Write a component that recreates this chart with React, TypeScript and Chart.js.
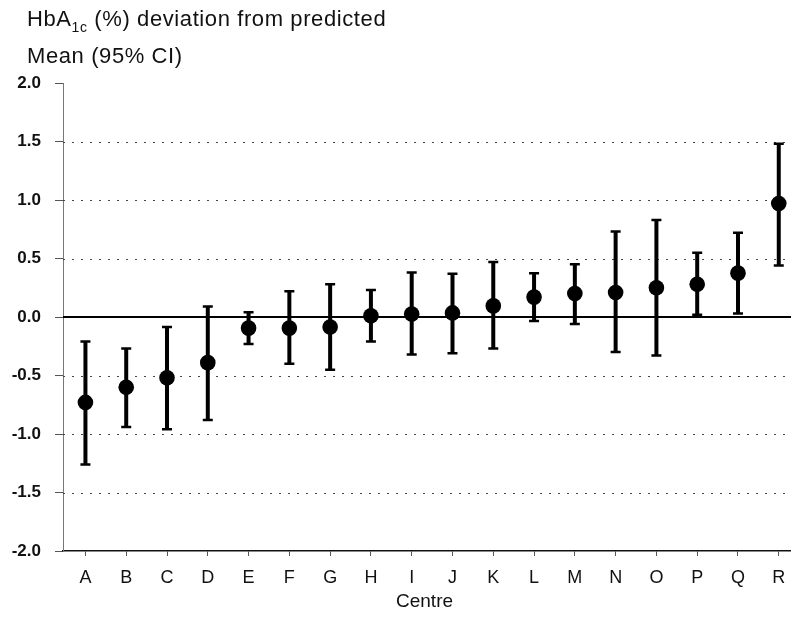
import React, { useEffect, useRef } from 'react';
import { Chart, registerables } from 'chart.js';

Chart.register(...registerables);

const centres = ['A', 'B', 'C', 'D', 'E', 'F', 'G', 'H', 'I', 'J', 'K', 'L', 'M', 'N', 'O', 'P', 'Q', 'R'];
const means = [-0.73, -0.6, -0.52, -0.39, -0.095, -0.095, -0.085, 0.01, 0.025, 0.035, 0.095, 0.17, 0.2, 0.21, 0.25, 0.28, 0.375, 0.97];
const lowerCI = [-1.26, -0.94, -0.96, -0.88, -0.23, -0.4, -0.45, -0.21, -0.32, -0.31, -0.27, -0.035, -0.06, -0.3, -0.33, 0.02, 0.03, 0.44];
const upperCI = [-0.21, -0.27, -0.085, 0.09, 0.04, 0.22, 0.28, 0.23, 0.38, 0.37, 0.47, 0.375, 0.45, 0.73, 0.83, 0.55, 0.72, 1.48];
const dottedGridValues = [-1.5, -1.0, -0.5, 0.5, 1.0, 1.5];

const FONT = '"Liberation Sans", Arial, Helvetica, sans-serif';

const errorBarPlugin = {
  id: 'errorBars',
  beforeDatasetsDraw(chart: any) {
    const { ctx, chartArea, scales } = chart;
    const x = scales.x;
    const y = scales.y;
    ctx.save();
    // dotted grid lines
    ctx.strokeStyle = '#444';
    ctx.lineWidth = 1;
    ctx.setLineDash([2, 7]);
    for (const v of dottedGridValues) {
      const py = Math.round(y.getPixelForValue(v)) + 0.5;
      ctx.beginPath();
      ctx.moveTo(chartArea.left, py);
      ctx.lineTo(chartArea.right, py);
      ctx.stroke();
    }
    ctx.setLineDash([]);
    // zero line
    ctx.strokeStyle = '#000';
    ctx.lineWidth = 2;
    const py0 = y.getPixelForValue(0);
    ctx.beginPath();
    ctx.moveTo(chartArea.left, py0);
    ctx.lineTo(chartArea.right, py0);
    ctx.stroke();
    // error bars
    ctx.strokeStyle = '#000';
    for (let i = 0; i < centres.length; i++) {
      const px = x.getPixelForValue(i);
      const yl = y.getPixelForValue(lowerCI[i]);
      const yu = y.getPixelForValue(upperCI[i]);
      ctx.lineWidth = 4;
      ctx.beginPath();
      ctx.moveTo(px, yl);
      ctx.lineTo(px, yu);
      ctx.stroke();
      ctx.lineWidth = 2.5;
      ctx.beginPath();
      ctx.moveTo(px - 5, yl);
      ctx.lineTo(px + 5, yl);
      ctx.moveTo(px - 5, yu);
      ctx.lineTo(px + 5, yu);
      ctx.stroke();
    }
    ctx.restore();
  },
};

export default function App() {
  const canvasRef = useRef<HTMLCanvasElement | null>(null);

  useEffect(() => {
    const canvas = canvasRef.current;
    if (!canvas) return;
    const points = means.map((m, i) => ({ x: i, y: m }));
    const chart = new Chart(canvas, {
      type: 'line',
      data: {
        datasets: [
          {
            data: points,
            showLine: false,
            pointRadius: 7.8,
            pointBackgroundColor: '#000',
            pointBorderColor: '#000',
            pointBorderWidth: 0,
          },
        ],
      },
      options: {
        responsive: false,
        animation: false,
        events: [],
        layout: { autoPadding: false, padding: { top: 83, right: 0, left: 0, bottom: 0 } },
        plugins: {
          legend: { display: false },
          tooltip: { enabled: false },
          title: { display: false },
        },
        scales: {
          x: {
            type: 'linear',
            min: -0.55,
            max: 17.3,
            grid: {
              display: true,
              drawOnChartArea: false,
              drawTicks: true,
              tickLength: 5,
              color: '#555',
            },
            border: { display: true, color: '#111', width: 1.5 },
            ticks: {
              stepSize: 1,
              includeBounds: false,
              autoSkip: false,
              maxRotation: 0,
              color: '#111',
              font: { family: FONT, size: 18 },
              padding: 11,
              callback: (v: any) => centres[Number(v)] ?? '',
            },
            afterFit: (s: any) => {
              s.height = 71;
              s.paddingLeft = 0;
              s.paddingRight = 0;
            },
          },
          y: {
            type: 'linear',
            min: -2,
            max: 2,
            ticks: {
              stepSize: 0.5,
              color: '#111',
              font: { family: FONT, size: 17, weight: 'bold' },
              padding: 14,
              callback: (v: any) => Number(v).toFixed(1),
            },
            grid: {
              display: true,
              drawOnChartArea: false,
              drawTicks: true,
              tickLength: 8,
              color: '#555',
            },
            border: { display: true, color: '#777', width: 1 },
            afterFit: (s: any) => {
              s.width = 63;
            },
          },
        },
      },
      plugins: [errorBarPlugin],
    });
    return () => chart.destroy();
  }, []);

  const titleStyle: React.CSSProperties = {
    position: 'absolute',
    left: 27,
    fontSize: 22,
    lineHeight: '26px',
    letterSpacing: '0.6px',
    whiteSpace: 'nowrap',
  };

  return (
    <div style={{ position: 'fixed', left: 0, top: 0, width: 791, height: 622, background: '#fff', fontFamily: FONT, color: '#111' }}>
      <canvas ref={canvasRef} width={791} height={622} style={{ position: 'absolute', left: 0, top: 0, width: 791, height: 622 }} />
      <div style={{ ...titleStyle, top: 6 }}>
        HbA<sub style={{ fontSize: 14, verticalAlign: '-6px', lineHeight: 0 }}>1c</sub> (%) deviation from predicted
      </div>
      <div style={{ ...titleStyle, top: 43 }}>Mean (95% CI)</div>
      <div style={{ position: 'absolute', left: 396, top: 590, fontSize: 19, lineHeight: '22px', whiteSpace: 'nowrap' }}>
        Centre
      </div>
    </div>
  );
}
